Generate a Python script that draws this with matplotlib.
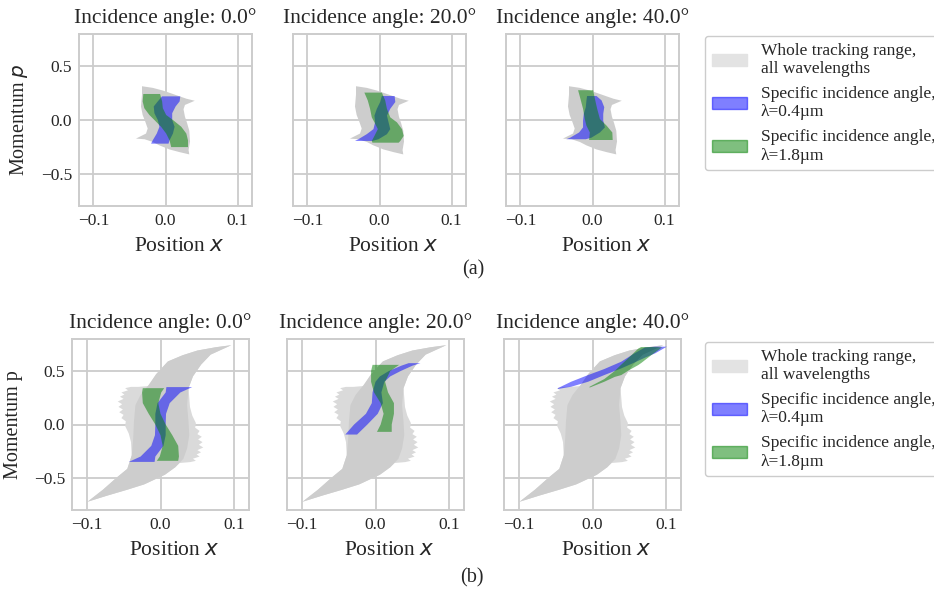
import matplotlib.pyplot as plt
import seaborn as sns
from matplotlib.patches import Patch

sns.set_style("whitegrid")
plt.rcParams["font.family"] = ["Liberation Serif", "DejaVu Serif"]
plt.rcParams["axes.edgecolor"] = "0.8"
plt.rcParams["axes.linewidth"] = 1.4
plt.rcParams["grid.color"] = "0.8"
plt.rcParams["grid.linewidth"] = 1.3

angles = [0.0, 20.0, 40.0]
legend_labels = [
    "Whole tracking range,\nall wavelengths",
    "Specific incidence angle,\nλ=0.4µm",
    "Specific incidence angle,\nλ=1.8µm",
]

# (a) whole tracking range, outline (x, p)
gray_a_x = [-0.0326, -0.0177, -0.0037, 0.0103, 0.0196, 0.029, 0.0406, 0.027, 0.025, 0.027,
            0.030, 0.033, 0.034, 0.032, 0.033, 0.0196, 0.0056, -0.0084, -0.0177, -0.029,
            -0.041, -0.027, -0.0247, -0.028, -0.0317, -0.034, -0.0326]
gray_a_p = [0.314, 0.299, 0.274, 0.242, 0.220, 0.198, 0.179, 0.140, 0.100, 0.030,
            -0.030, -0.100, -0.200, -0.280, -0.320, -0.299, -0.274, -0.236, -0.204, -0.179,
            -0.173, -0.126, -0.079, -0.016, 0.047, 0.126, 0.236]

# (a) specific angle bands: momentum levels, left and right edge in x
blue_a = [
    ([0.220, 0.173, 0.126, 0.063, 0.0, -0.063, -0.126, -0.189, -0.220],
     [-0.0047, -0.0107, -0.0163, -0.0154, -0.0107, -0.0084, -0.0121, -0.0177, -0.0200],
     [0.0205, 0.0196, 0.0140, 0.0093, 0.0093, 0.0126, 0.0103, 0.0056, 0.0042]),
    ([0.223, 0.167, 0.104, 0.041, -0.022, -0.085, -0.132, -0.179, -0.195],
     [0.0033, 0.0009, -0.0037, -0.0070, -0.0061, -0.0084, -0.0177, -0.0294, -0.0340],
     [0.0210, 0.0219, 0.0149, 0.0103, 0.0126, 0.0149, 0.0103, -0.0014, -0.0098]),
    ([0.223, 0.182, 0.119, 0.057, -0.006, -0.069, -0.116, -0.164, -0.179],
     [-0.0075, -0.0084, -0.0093, -0.0121, -0.0131, -0.0131, -0.0186, -0.0308, -0.0364],
     [0.0056, 0.0126, 0.0163, 0.0149, 0.0149, 0.0172, 0.0103, -0.0014, -0.0093]),
]
green_a = [
    ([0.242, 0.173, 0.110, 0.047, 0.0, -0.063, -0.126, -0.189, -0.252],
     [-0.0308, -0.0317, -0.0294, -0.0224, -0.0154, -0.0061, 0.0009, 0.0056, 0.0079],
     [-0.0075, -0.0047, -0.0037, 0.0009, 0.0103, 0.0219, 0.0289, 0.0312, 0.0312]),
    ([0.255, 0.182, 0.104, 0.025, -0.022, -0.085, -0.148, -0.195, -0.211],
     [-0.0210, -0.0163, -0.0131, -0.0107, -0.0070, -0.0023, -0.0070, -0.0107, -0.0098],
     [0.0033, 0.0079, 0.0103, 0.0149, 0.0242, 0.0312, 0.0336, 0.0289, 0.0266]),
    ([0.277, 0.198, 0.104, 0.009, -0.053, -0.116, -0.186],
     [-0.0200, -0.0168, -0.0131, -0.0107, -0.0084, -0.0037, -0.0047],
     [0.0009, 0.0033, 0.0065, 0.0103, 0.0196, 0.0275, 0.0280]),
]

# (b) whole tracking range: fuzzy outer outline and dense core
gray_b_outer_x = [-0.099, -0.072, -0.045, -0.022, 0.006, 0.020, 0.026, 0.040, 0.048, 0.044,
                  0.053, 0.049, 0.055, 0.050, 0.058, 0.052, 0.057, 0.051, 0.056, 0.050,
                  0.053, 0.047, 0.048, 0.043, 0.040, 0.038, 0.044, 0.055, 0.068, 0.096,
                  0.075, 0.050, 0.030, 0.010, -0.006, -0.016, -0.030, -0.040, -0.048, -0.044,
                  -0.053, -0.049, -0.055, -0.050, -0.058, -0.052, -0.057, -0.051, -0.056, -0.050,
                  -0.053, -0.047, -0.048, -0.043, -0.040, -0.039, -0.045, -0.060, -0.078]
gray_b_outer_p = [-0.723, -0.665, -0.610, -0.560, -0.470, -0.400, -0.360, -0.352, -0.340, -0.320,
                  -0.300, -0.280, -0.260, -0.240, -0.215, -0.190, -0.165, -0.140, -0.115, -0.090,
                  -0.060, -0.030, 0.013, 0.085, 0.164, 0.340, 0.450, 0.560, 0.654, 0.742,
                  0.723, 0.692, 0.648, 0.590, 0.470, 0.360, 0.352, 0.352, 0.340, 0.320,
                  0.300, 0.280, 0.260, 0.240, 0.215, 0.190, 0.165, 0.140, 0.115, 0.090,
                  0.060, 0.030, -0.013, -0.085, -0.164, -0.289, -0.415, -0.500, -0.610]
gray_b_core_x = [-0.099, -0.072, -0.045, -0.022, 0.006, 0.020, 0.031, 0.036, 0.039, 0.038,
                 0.036, 0.038, 0.044, 0.055, 0.068, 0.096, 0.075, 0.050, 0.030, 0.010,
                 -0.006, -0.016, -0.027, -0.034, -0.036, -0.037, -0.039, -0.045, -0.060, -0.078]
gray_b_core_p = [-0.723, -0.665, -0.610, -0.560, -0.470, -0.400, -0.321, -0.226, -0.100, 0.025,
                 0.182, 0.340, 0.450, 0.560, 0.654, 0.742, 0.723, 0.692, 0.648, 0.590,
                 0.470, 0.371, 0.277, 0.182, 0.025, -0.132, -0.289, -0.415, -0.500, -0.610]

# (b) specific angle bands at 0 and 20 deg: momentum levels, left/right x edges
blue_b = [
    ([-0.35, -0.3, -0.2, -0.1, 0.0, 0.1, 0.2, 0.3, 0.35],
     [-0.043, -0.027, -0.0125, -0.0075, -0.007, -0.007, -0.004, 0.007, 0.008],
     [-0.008, -0.007, 0.004, 0.007, 0.007, 0.0075, 0.0125, 0.027, 0.043]),
    ([-0.094, 0.0, 0.1, 0.2, 0.3, 0.4, 0.45, 0.5, 0.55, 0.574],
     [-0.041, -0.029, -0.013, -0.005, -0.004, 0.0, 0.006, 0.018, 0.035, 0.045],
     [-0.025, -0.011, 0.003, 0.010, 0.008, 0.012, 0.020, 0.034, 0.050, 0.061]),
]
green_b = [
    ([-0.34, -0.3, -0.2, -0.1, 0.0, 0.1, 0.2, 0.3, 0.34],
     [-0.005, -0.001, 0.003, 0.0, -0.007, -0.016, -0.024, -0.025, -0.024],
     [0.024, 0.025, 0.024, 0.016, 0.007, 0.0, -0.003, 0.001, 0.005]),
    ([-0.069, 0.0, 0.1, 0.2, 0.3, 0.4, 0.5, 0.558],
     [0.002, 0.007, 0.011, 0.007, -0.002, -0.006, -0.006, -0.004],
     [0.022, 0.022, 0.025, 0.025, 0.017, 0.013, 0.020, 0.032]),
]
# (b) 40 deg: thin bands given by x grid and upper/lower momentum
blue_b40_x = [-0.047, -0.029, -0.006, 0.016, 0.039, 0.057, 0.071, 0.085, 0.1007]
blue_b40_top = [0.340, 0.400, 0.4625, 0.519, 0.5875, 0.666, 0.720, 0.728, 0.728]
blue_b40_bot = [0.332, 0.353, 0.400, 0.4625, 0.525, 0.580, 0.625, 0.666, 0.728]
green_b40_x = [-0.004, 0.016, 0.030, 0.039, 0.050, 0.062, 0.066, 0.080, 0.094]
green_b40_top = [0.353, 0.425, 0.500, 0.560, 0.630, 0.710, 0.725, 0.725, 0.722]
green_b40_bot = [0.345, 0.400, 0.445, 0.4625, 0.510, 0.556, 0.575, 0.650, 0.720]

GRAY = "#cdcdcd"
GRAY_LIGHT = "#dadada"
BLUE = (0.0, 0.0, 1.0, 0.5)
GREEN = (0.0, 0.5, 0.0, 0.5)


def fill_band(ax, band, color):
    p, xl, xr = band
    xs = list(xl) + list(xr)[::-1]
    ps = list(p) + list(p)[::-1]
    ax.fill(xs, ps, color=color, lw=0)


def style_axes(ax, i, ylabel):
    ax.set_xlim(-0.12, 0.12)
    ax.set_ylim(-0.8, 0.8)
    ax.set_xticks([-0.1, 0.0, 0.1])
    ax.set_yticks([-0.5, 0.0, 0.5])
    ax.tick_params(labelsize=12.5, length=0, pad=5)
    ax.set_title(f"Incidence angle: {angles[i]}°", fontsize=15.5, pad=8)
    ax.set_xlabel("Position $x$", fontsize=15.5, labelpad=6)
    ax.xaxis.label.set_x(0.58)
    if i == 0:
        ax.set_ylabel(ylabel, fontsize=14.5, labelpad=8)
    else:
        ax.set_yticklabels([])


fig = plt.figure(figsize=(9.34, 5.93), dpi=100)
W, H = 934, 593

row_a_left = [79, 293, 506]
row_b_left = [72, 287, 504]

for i in range(3):
    ax = fig.add_axes([row_a_left[i] / W, (H - 206) / H, 173 / W, 172 / H])
    ax.fill(gray_a_x, gray_a_p, color=GRAY, lw=0)
    fill_band(ax, blue_a[i], BLUE)
    fill_band(ax, green_a[i], GREEN)
    style_axes(ax, i, "Momentum $p$")

for i in range(3):
    ax = fig.add_axes([row_b_left[i] / W, (H - 510) / H, 177 / W, 171 / H])
    ax.fill(gray_b_outer_x, gray_b_outer_p, color=GRAY_LIGHT, lw=0)
    ax.fill(gray_b_core_x, gray_b_core_p, color=GRAY, lw=0)
    if i < 2:
        fill_band(ax, blue_b[i], BLUE)
        fill_band(ax, green_b[i], GREEN)
    else:
        ax.fill(blue_b40_x + blue_b40_x[::-1], blue_b40_top + blue_b40_bot[::-1], color=BLUE, lw=0)
        ax.fill(green_b40_x + green_b40_x[::-1], green_b40_top + green_b40_bot[::-1], color=GREEN, lw=0)
    style_axes(ax, i, "Momentum p")

handles = [Patch(color="#e3e3e3"), Patch(color=BLUE), Patch(color=GREEN)]
for y_top in [36, 342]:
    fig.legend(handles, legend_labels, loc="upper left",
               bbox_to_anchor=(705 / W, 1 - y_top / H), borderaxespad=0,
               fontsize=12.5, frameon=True, framealpha=1, edgecolor="0.8")

fig.text(473 / W, 1 - 270 / H, "(a)", ha="center", va="center", fontsize=14.5)
fig.text(472 / W, 1 - 578 / H, "(b)", ha="center", va="center", fontsize=14.5)

fig.savefig("out.png", dpi=100)
